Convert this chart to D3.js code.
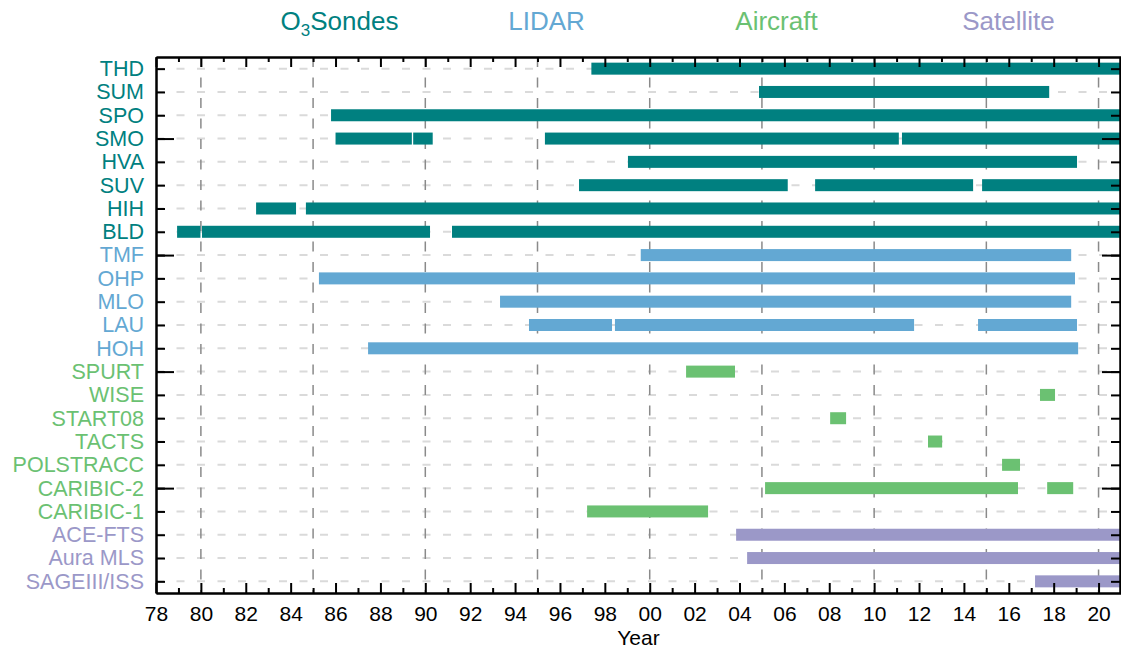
<!DOCTYPE html>
<html>
<head>
<meta charset="utf-8">
<script src="https://cdn.jsdelivr.net/npm/d3@7"></script>
<style>
  body { margin: 0; background: #fff; }
  text { font-family: "Liberation Sans", Arial, Helvetica, sans-serif; }
</style>
</head>
<body>
<script>
const groupNames = ["O3Sondes", "LIDAR", "Aircraft", "Satellite"];

const sondeSites = ["THD", "SUM", "SPO", "SMO", "HVA", "SUV", "HIH", "BLD"];
const sondePeriods = [
  [[1997.4, 2021]],
  [[2004.87, 2017.8]],
  [[1985.8, 2021]],
  [[1986.0, 1989.4], [1989.46, 1990.33], [1995.33, 2011.1], [2011.24, 2021]],
  [[1999.03, 2019.04]],
  [[1996.85, 2006.15], [2007.37, 2014.41], [2014.81, 2021]],
  [[1982.46, 1984.24], [1984.68, 2021]],
  [[1978.94, 1979.98], [1980.05, 1990.21], [1991.19, 2021]]
];

const lidarSites = ["TMF", "OHP", "MLO", "LAU", "HOH"];
const lidarPeriods = [
  [[1999.6, 2018.78]],
  [[1985.26, 2018.95]],
  [[1993.33, 2018.78]],
  [[1994.62, 1998.32], [1998.45, 2011.78], [2014.63, 2019.04]],
  [[1987.45, 2019.09]]
];

const aircraftCampaigns = ["SPURT", "WISE", "START08", "TACTS", "POLSTRACC", "CARIBIC-2", "CARIBIC-1"];
const aircraftPeriods = [
  [[2001.62, 2003.8]],
  [[2017.39, 2018.06]],
  [[2008.04, 2008.75]],
  [[2012.4, 2013.03]],
  [[2015.7, 2016.5]],
  [[2005.14, 2016.41], [2017.71, 2018.87]],
  [[1997.21, 2002.6]]
];

const satelliteInstruments = ["ACE-FTS", "Aura MLS", "SAGEIII/ISS"];
const satellitePeriods = [
  [[2003.85, 2021]],
  [[2004.34, 2021]],
  [[2017.17, 2021]]
];

const yearTicks = [1978, 1980, 1982, 1984, 1986, 1988, 1990, 1992, 1994, 1996, 1998,
                   2000, 2002, 2004, 2006, 2008, 2010, 2012, 2014, 2016, 2018, 2020];
const minorYearTicks = [1979, 1981, 1983, 1985, 1987, 1989, 1991, 1993, 1995, 1997, 1999,
                        2001, 2003, 2005, 2007, 2009, 2011, 2013, 2015, 2017, 2019];
const gridYears = [1980, 1985, 1990, 1995, 2000, 2005, 2010, 2015, 2020];
const yearDomain = [1978, 2021];

// styles
const groupColors = ["#008080", "#63a8d3", "#6bc172", "#9b98c8"];
const titleCenters = [339.5, 546.5, 776.5, 1008.5];

let margin = null, width = null, height = null;
let svg = null;
let x, y = null;
let rows = [];

setupCanvasSize();
buildRows();
appendSvg("body");
drawChart();

function setupCanvasSize() {
  margin = {top: 57, left: 156, bottom: 58, right: 0};
  width = 1121 - margin.left - margin.right;
  height = 651 - margin.top - margin.bottom;
}

function buildRows() {
  const groups = [
    [sondeSites, sondePeriods],
    [lidarSites, lidarPeriods],
    [aircraftCampaigns, aircraftPeriods],
    [satelliteInstruments, satellitePeriods]
  ];
  groups.forEach(([names, periods], g) => {
    names.forEach((name, i) => rows.push({name: name, group: g, periods: periods[i]}));
  });
  // top row gets the highest value, like the original plot
  rows.forEach((r, i) => r.value = rows.length - i);
}

function appendSvg(domElement) {
  const root = d3.select(domElement).append("svg")
    .attr("width", 1121)
    .attr("height", 651);

  root.append("defs").append("clipPath").attr("id", "plotClip")
    .append("rect").attr("width", width).attr("height", height);

  svg = root.append("g")
    .attr("transform", `translate(${margin.left}, ${margin.top})`);
  appendTitles(root);
}

function appendTitles(root) {
  groupNames.forEach((name, g) => {
    const t = root.append("text")
      .attr("x", titleCenters[g])
      .attr("y", 30)
      .attr("text-anchor", "middle")
      .attr("font-size", "26px")
      .attr("fill", groupColors[g]);
    if (name.startsWith("O3")) {
      t.append("tspan").text("O");
      t.append("tspan").attr("font-size", "17px").attr("dy", 6).text("3");
      t.append("tspan").attr("dy", -6).text(name.slice(2));
    } else {
      t.text(name);
    }
  });
}

function drawChart() {
  setupXScale();
  setupYScale();
  appendGrid();
  appendBars();
  appendXAxes();
  appendYAxes();
}

function setupXScale() {
  x = d3.scaleLinear().domain(yearDomain).range([0, width]);
}

function setupYScale() {
  y = d3.scaleLinear().domain([0.5, rows.length + 0.5]).range([height, 0]);
}

function appendGrid() {
  svg.append("g").selectAll("line")
    .data(rows)
    .enter().append("line")
    .attr("x1", 0).attr("x2", width)
    .attr("y1", d => y(d.value)).attr("y2", d => y(d.value))
    .attr("stroke", "#dadada")
    .attr("stroke-width", 2)
    .attr("stroke-dasharray", "8,12.5");

  svg.append("g").selectAll("line")
    .data(gridYears)
    .enter().append("line")
    .attr("x1", d => x(d)).attr("x2", d => x(d))
    .attr("y1", 0).attr("y2", height)
    .attr("stroke", "#8a8a8a")
    .attr("stroke-width", 1.5)
    .attr("stroke-dasharray", "10,10.5");
}

function appendBars() {
  const segs = [];
  rows.forEach(r => r.periods.forEach(p => segs.push({row: r, start: p[0], end: p[1]})));

  svg.append("g")
    .attr("clip-path", "url(#plotClip)")
    .selectAll("rect")
    .data(segs)
    .enter().append("rect")
    .attr("x", d => x(d.start))
    .attr("width", d => x(d.end) - x(d.start))
    .attr("y", d => y(d.row.value) - 6)
    .attr("height", 12)
    .attr("fill", d => groupColors[d.row.group]);
}

function styleAxis(g) {
  g.selectAll("path, line").attr("stroke", "#000").attr("stroke-width", 2);
  g.selectAll("text").attr("fill", "#000").attr("font-size", "21px").attr("font-family", null);
}

function twoDigitYear(d) {
  return String(d % 100).padStart(2, "0");
}

function appendXAxes() {
  // bottom, labelled
  svg.append("g")
    .attr("transform", `translate(0, ${height})`)
    .call(d3.axisBottom(x).tickValues(yearTicks).tickFormat(twoDigitYear)
      .tickSizeInner(-10).tickSizeOuter(0).tickPadding(13))
    .call(styleAxis);
  svg.append("g")
    .attr("transform", `translate(0, ${height})`)
    .call(d3.axisBottom(x).tickValues(minorYearTicks).tickFormat("")
      .tickSizeInner(-5).tickSizeOuter(0))
    .call(styleAxis);

  // top, ticks only
  svg.append("g")
    .call(d3.axisTop(x).tickValues(yearTicks).tickFormat("")
      .tickSizeInner(-10).tickSizeOuter(0))
    .call(styleAxis);
  svg.append("g")
    .call(d3.axisTop(x).tickValues(minorYearTicks).tickFormat("")
      .tickSizeInner(-5).tickSizeOuter(0))
    .call(styleAxis);

  svg.append("text")
    .attr("x", width / 2)
    .attr("y", 645 - margin.top)
    .attr("text-anchor", "middle")
    .attr("font-size", "21px")
    .attr("fill", "#000")
    .text("Year");
}

function appendYAxes() {
  const byValue = new Map(rows.map(r => [r.value, r]));
  const values = rows.map(r => r.value);
  const majorValues = values.filter(v => v % 5 === 0);

  const left = svg.append("g")
    .call(d3.axisLeft(y).tickValues(values).tickFormat(v => byValue.get(v).name)
      .tickSizeInner(-9).tickSizeOuter(0).tickPadding(12))
    .call(styleAxis);
  left.selectAll(".tick text")
    .attr("font-size", "21.5px")
    .attr("fill", v => groupColors[byValue.get(v).group]);
  svg.append("g")
    .call(d3.axisLeft(y).tickValues(majorValues).tickFormat("")
      .tickSizeInner(-18).tickSizeOuter(0))
    .call(styleAxis);

  svg.append("g")
    .attr("transform", `translate(${width - 1}, 0)`)
    .call(d3.axisRight(y).tickValues(values).tickFormat("")
      .tickSizeInner(-9).tickSizeOuter(0))
    .call(styleAxis);
  svg.append("g")
    .attr("transform", `translate(${width - 1}, 0)`)
    .call(d3.axisRight(y).tickValues(majorValues).tickFormat("")
      .tickSizeInner(-18).tickSizeOuter(0))
    .call(styleAxis);
}
</script>
</body>
</html>
